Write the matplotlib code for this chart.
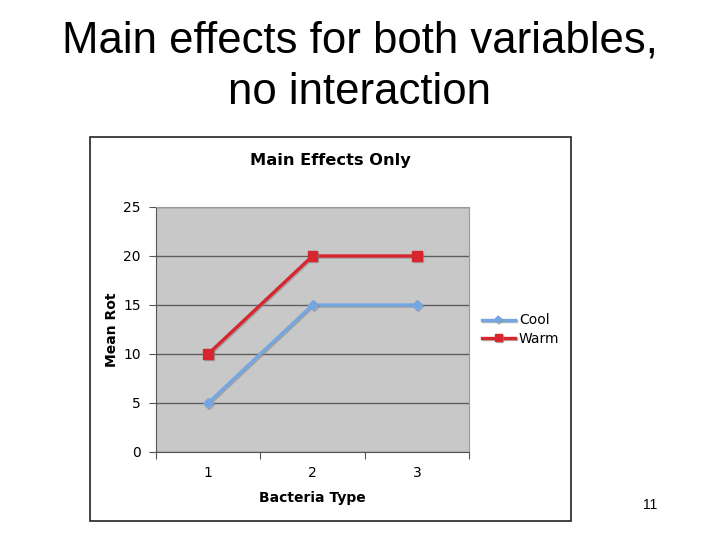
import matplotlib.pyplot as plt
import matplotlib.patches as mpatches
import matplotlib.patheffects as pe

# data
bacteria = ['1', '2', '3']
cool = [5, 15, 15]
warm = [10, 20, 20]

fig = plt.figure(figsize=(7.2, 5.4), dpi=100)
fig.patch.set_facecolor('white')

# slide title
fig.text(0.5, 0.925, 'Main effects for both variables,', ha='center', va='center',
         fontsize=31.5, family='Liberation Sans')
fig.text(0.5, 0.828, 'no interaction', ha='center', va='center',
         fontsize=31.5, family='Liberation Sans')

# chart frame (behind the axes)
box = mpatches.Rectangle((0.125, 0.035), 0.668, 0.711, transform=fig.transFigure,
                         facecolor='white', edgecolor='#222222', linewidth=1.2, zorder=-5)
fig.add_artist(box)

ax = fig.add_axes([0.2167, 0.163, 0.4347, 0.4537])
ax.set_facecolor('#c8c8c8')

x = [0.5, 1.5, 2.5]
shadow = [pe.SimpleLineShadow(offset=(0.8, -0.8), shadow_color='#888888', alpha=0.6), pe.Normal()]
ax.plot(x, cool, color='#74a6e2', lw=2.4, marker='D', ms=5, label='Cool', path_effects=shadow)
ax.plot(x, warm, color='#d7262e', lw=2.4, marker='s', ms=7, label='Warm', path_effects=shadow)

ax.set_xlim(0, 3)
ax.set_ylim(0, 25)
ax.set_yticks([0, 5, 10, 15, 20, 25])
ax.set_xticks([0, 1, 2, 3])
ax.set_xticklabels([])
ax.set_xticks(x, minor=True)
ax.set_xticklabels(bacteria, minor=True)
ax.tick_params(axis='x', which='minor', length=0, pad=10, labelsize=10)
ax.tick_params(axis='x', which='major', length=5, color='#555555')
ax.tick_params(axis='y', length=5, color='#555555', labelsize=10, pad=6)
ax.yaxis.grid(True, color='#5e5e5e', lw=1)
ax.set_axisbelow(True)
for s in ['top', 'right']:
    ax.spines[s].set_color('#999999')
for s in ['left', 'bottom']:
    ax.spines[s].set_color('#555555')

ax.set_xlabel('Bacteria Type', fontsize=10, fontweight='bold', labelpad=8)
ax.set_ylabel('Mean Rot', fontsize=10, fontweight='bold', labelpad=3)

fig.text(0.459, 0.702, 'Main Effects Only', ha='center', va='center',
         fontsize=11.7, fontweight='bold')

ax.legend(loc='center left', bbox_to_anchor=(1.0, 0.5), frameon=False,
          fontsize=10, handlelength=2.4, handletextpad=0.3, labelspacing=0.3,
          markerscale=0.7)

fig.text(0.903, 0.065, '11', ha='center', va='center', fontsize=10, family='Liberation Sans')

fig.savefig('out.png', dpi=100)
